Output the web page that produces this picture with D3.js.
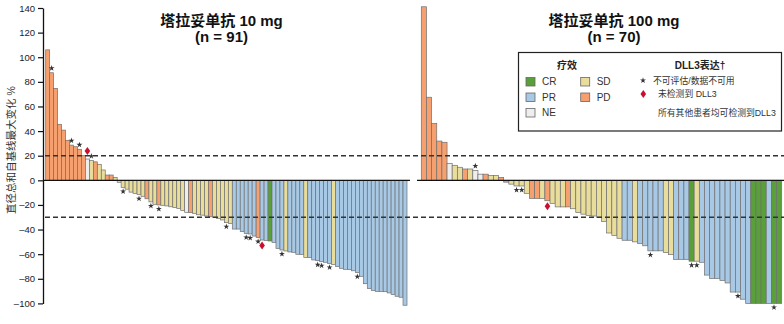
<!DOCTYPE html>
<html>
<head>
<meta charset="utf-8">
<script src="https://cdn.jsdelivr.net/npm/d3@7/dist/d3.min.js"></script>
<style>
  html, body { margin: 0; padding: 0; background: #fff; }
  svg { display: block; font-family: "Liberation Sans", Arial, "Noto Sans CJK SC", sans-serif; }
</style>
</head>
<body>
<svg id="chart" width="784" height="324"></svg>
<script>
// Best % change in sum of diameters from baseline, per patient (sorted waterfall)
const dose10Values = [
  106, 87.4, 74.7, 45.5, 40.8, 32.5, 28.6, 27.3, 25.2, 20,
  17.3, 16, 15, 13, 8.4, 4.3, 4.3, 2.4, -1.6, -5.8,
  -7.2, -9.6, -10.6, -11.6, -13, -15, -17.5, -19.5, -20, -20.3,
  -20.8, -21.5, -22.2, -22.8, -24.5, -26, -26.2, -26.8, -28, -28.3,
  -29, -29.6, -30, -30.9, -32.2, -34.4, -35, -39.6, -39.6, -41.7,
  -43.1, -43.6, -45.3, -46.5, -48.5, -48.8, -49.3, -50.4, -55.3, -56.6,
  -57.4, -58.2, -58.5, -60.1, -60.3, -62.6, -62.8, -64.7, -65.3, -66.1,
  -66.6, -67.5, -68.3, -70, -71.5, -72.3, -72.5, -73.5, -75, -78,
  -84, -88, -89.5, -90.2, -90.3, -90.5, -91.5, -92.8, -94.2, -95,
  -101.5
];
const dose10Response = [
  "PD","PD","PD","PD","PD","PD","PD","PD","PD","PD",
  "NE","SD","PD","SD","SD","PD","PD","SD","SD","SD",
  "SD","SD","SD","SD","SD","PD","SD","SD","PD","SD",
  "SD","SD","SD","SD","SD","NE","PD","SD","SD","SD",
  "SD","PD","SD","SD","SD","SD","SD","PR","PR","PR",
  "PR","PR","PR","PD","PR","PR","CR","PR","PR","PR",
  "SD","PR","PR","PR","PR","SD","PR","PR","PR","PR",
  "PR","PR","SD","PR","PR","PR","PR","PR","PR","PR",
  "PR","PR","PR","PR","PR","PR","PR","PR","PR","PR",
  "PR"
];
// patients (0-based order) with DLL3 not evaluable / not detected
const dose10NotEvaluable = [1, 6, 8, 11, 19, 23, 26, 28, 45, 50, 51, 53, 59, 68, 69, 71, 78];
const dose10NotDetected = [10, 54];

const dose100Values = [
  141, 67.5, 46.3, 31.9, 30.9, 13.8, 12.2, 10.6, 9.2, 9.2,
  8, 5, 5, 3.9, 3.9, 2.4, -1.5, -3.1, -4.6, -4.6,
  -10.6, -14.7, -14.7, -14.7, -16.6, -18.7, -21.6, -21.6, -21.6, -23.1,
  -26.1, -27.5, -28.6, -29, -30, -33.4, -42.8, -44.7, -47.1, -48.7,
  -48.7, -50, -51.4, -53.2, -57.3, -57.3, -57.3, -58.6, -60.4, -64.2,
  -64.2, -64.2, -65.7, -65.7, -66.6, -77, -79.7, -79.7, -81.4, -83.4,
  -90.8, -90.8, -96.6, -100, -100, -100, -100, -100, -100, -100
];
const dose100Response = [
  "PD","PD","PD","PD","PD","NE","SD","SD","PD","SD",
  "NE","NE","PD","SD","SD","PD","PD","SD","SD","SD",
  "SD","PD","PD","SD","PD","SD","SD","SD","PD","SD",
  "SD","SD","SD","SD","SD","SD","SD","SD","SD","PR",
  "PR","SD","PR","PR","PR","PR","PR","SD","SD","PR",
  "PR","PR","CR","SD","PR","PR","PR","PR","PR","PR",
  "PR","PR","PR","PR","CR","CR","CR","PR","CR","CR"
];
const dose100NotEvaluable = [10, 18, 19, 44, 52, 53, 61, 68];
const dose100NotDetected = [24];

const yTicks = [-100, -80, -60, -40, -20, 0, 20, 40, 60, 80, 100, 120, 140];
const thresholds = [20, -30];

const responseColors = { CR: "#5aa03a", PR: "#a8c9e5", NE: "#eeeeee", SD: "#e9dd9b", PD: "#f7a06f" };
const legendResponses = [["CR", 0, 0], ["PR", 0, 1], ["NE", 0, 2], ["SD", 1, 0], ["PD", 1, 1]];

const svg = d3.select("#chart");
const y = d3.scaleLinear().domain([-100, 140]).range([303.4, 8]);

function drawPanel(cfg) {
  const x = d3.scaleBand().domain(d3.range(cfg.values.length)).range(cfg.range).padding(0);
  const g = svg.append("g");
  const data = cfg.values.map((v, i) => ({ i, v, r: cfg.response[i] }));

  g.selectAll("rect.bar").data(data).join("rect")
    .attr("class", "bar")
    .attr("x", d => x(d.i))
    .attr("width", x.bandwidth())
    .attr("y", d => y(Math.max(0, d.v)))
    .attr("height", d => Math.abs(y(d.v) - y(0)))
    .attr("fill", d => responseColors[d.r])
    .attr("stroke", "#6f6f6f")
    .attr("stroke-width", 0.7);

  // DLL3 not evaluable markers
  g.selectAll("path.star").data(cfg.notEvaluable.map(i => data[i])).join("path")
    .attr("class", "star")
    .attr("d", d3.symbol(d3.symbolStar, 11))
    .attr("transform", d => `translate(${x(d.i) + x.bandwidth() / 2},${d.v >= 0 ? y(d.v) - 4.5 : y(d.v) + 4})`)
    .attr("fill", "#333");

  // DLL3 not detected markers
  g.selectAll("path.diamond").data(cfg.notDetected.map(i => data[i])).join("path")
    .attr("class", "diamond")
    .attr("d", "M0,-4L2.8,0L0,4L-2.8,0Z")
    .attr("transform", d => `translate(${x(d.i) + x.bandwidth() / 2},${d.v >= 0 ? y(d.v) - 8 : y(d.v) + 5.5})`)
    .attr("fill", "#c8102e");

  // zero line
  g.append("line")
    .attr("x1", cfg.zero[0]).attr("x2", cfg.zero[1])
    .attr("y1", y(0)).attr("y2", y(0))
    .attr("stroke", "#111").attr("stroke-width", 1.3);

  g.append("text")
    .attr("x", cfg.titleX).attr("y", 25.5)
    .attr("text-anchor", "middle")
    .attr("font-size", 15).attr("font-weight", "bold").attr("fill", "#111")
    .text(cfg.title);
  g.append("text")
    .attr("x", cfg.titleX).attr("y", 41.5)
    .attr("text-anchor", "middle")
    .attr("font-size", 15).attr("font-weight", "bold").attr("fill", "#111")
    .text(cfg.subtitle);
}

drawPanel({
  values: dose10Values, response: dose10Response,
  notEvaluable: dose10NotEvaluable, notDetected: dose10NotDetected,
  range: [45.7, 407], zero: [43, 410], titleX: 221.5,
  title: "塔拉妥单抗 10 mg", subtitle: "(n = 91)"
});
drawPanel({
  values: dose100Values, response: dose100Response,
  notEvaluable: dose100NotEvaluable, notDetected: dose100NotDetected,
  range: [421.3, 781.7], zero: [417, 784], titleX: 614,
  title: "塔拉妥单抗 100 mg", subtitle: "(n = 70)"
});

// response thresholds (+20% progression, -30% partial response)
svg.selectAll("line.threshold").data(thresholds).join("line")
  .attr("class", "threshold")
  .attr("x1", 45).attr("x2", 784)
  .attr("y1", d => y(d)).attr("y2", d => y(d))
  .attr("stroke", "#333").attr("stroke-width", 1.5)
  .attr("stroke-dasharray", "5,3");

// y axis
const yAxis = d3.axisLeft(y).tickValues(yTicks).tickSize(5).tickSizeOuter(0).tickPadding(3)
  .tickFormat(d => d < 0 ? "\u2013" + Math.abs(d) : String(d));
const ag = svg.append("g").attr("transform", "translate(43,0)").call(yAxis);
ag.select(".domain").attr("stroke", "#111").attr("stroke-width", 1.3);
ag.selectAll(".tick line").attr("stroke", "#111").attr("stroke-width", 1.2);
ag.selectAll(".tick text").attr("font-size", 9.5).attr("fill", "#222")
  .attr("font-family", "'Liberation Sans', Arial, sans-serif");

svg.append("text")
  .attr("transform", "translate(15,150) rotate(-90)")
  .attr("text-anchor", "middle")
  .attr("font-size", 10.5).attr("fill", "#333")
  .text("直径总和自基线最大变化 %");

// legend
const lg = svg.append("g");
lg.append("rect")
  .attr("x", 518.5).attr("y", 52.5).attr("width", 263).attr("height", 78.5)
  .attr("fill", "#fff").attr("stroke", "#222").attr("stroke-width", 1.2);
lg.append("text").attr("x", 567).attr("y", 68.5).attr("text-anchor", "middle")
  .attr("font-size", 10).attr("font-weight", "bold").attr("fill", "#222").text("疗效");
lg.append("text").attr("x", 700).attr("y", 68.5).attr("text-anchor", "middle")
  .attr("font-size", 10).attr("font-weight", "bold").attr("fill", "#222").text("DLL3表达†");

const items = lg.selectAll("g.item").data(legendResponses).join("g")
  .attr("class", "item")
  .attr("transform", d => `translate(${526 + d[1] * 54.7},${77.5 + d[2] * 15.5})`);
items.append("rect").attr("width", 9).attr("height", 8.5)
  .attr("fill", d => responseColors[d[0]]).attr("stroke", "#666").attr("stroke-width", 0.8);
items.append("text").attr("x", 16).attr("y", 7.8)
  .attr("font-size", 10).attr("fill", "#333").text(d => d[0]);

lg.append("path").attr("d", d3.symbol(d3.symbolStar, 11))
  .attr("transform", "translate(643,80.5)").attr("fill", "#333");
lg.append("text").attr("x", 653).attr("y", 84).attr("font-size", 8.8).attr("fill", "#333")
  .text("不可评估/数据不可用");
lg.append("path").attr("d", "M0,-4L2.8,0L0,4L-2.8,0Z")
  .attr("transform", "translate(643.3,94)").attr("fill", "#c8102e");
lg.append("text").attr("x", 658).attr("y", 97).attr("font-size", 8.8).attr("fill", "#333")
  .text("未检测到 DLL3");
lg.append("text").attr("x", 658).attr("y", 116).attr("font-size", 8.8).attr("fill", "#333")
  .text("所有其他患者均可检测到DLL3");
</script>
</body>
</html>
